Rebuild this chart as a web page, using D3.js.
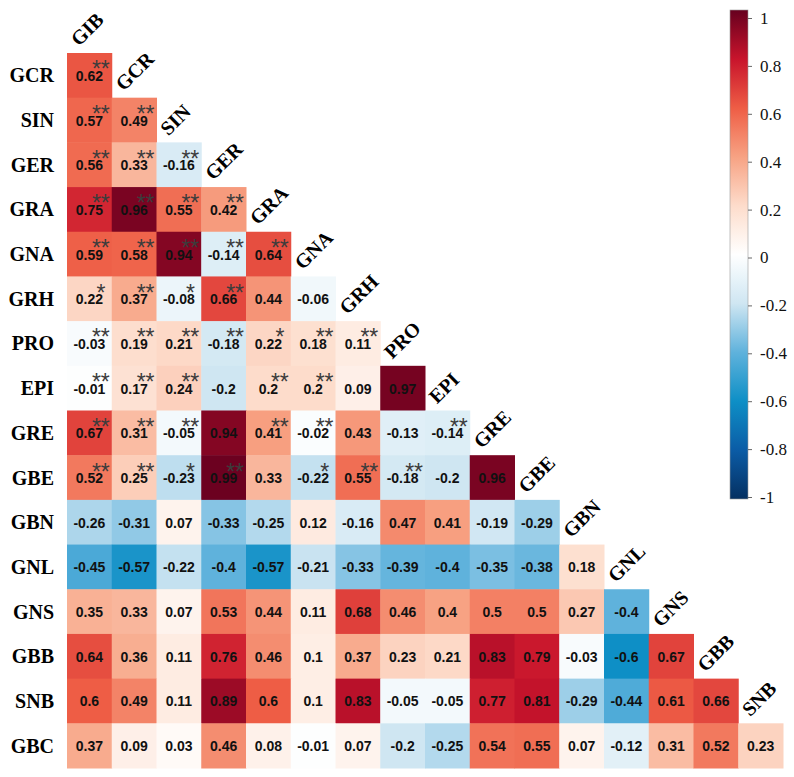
<!DOCTYPE html>
<html lang="en">
<head>
<meta charset="utf-8">
<title>Correlation matrix</title>
<script src="https://cdn.jsdelivr.net/npm/d3@7"></script>
<style>
  body { margin: 0; background: #fff; }
  .rowlab, .collab { font-family: "Liberation Serif", "Times New Roman", serif; font-weight: bold; font-size: 20px; fill: #000; }
  .val { font-family: "Liberation Sans", Arial, sans-serif; font-weight: bold; font-size: 14px; fill: #111; }
  .star { font-family: "Liberation Sans", Arial, sans-serif; font-size: 23px; fill: #3c3c3c; }
</style>
</head>
<body>
<svg width="794" height="777"></svg>
<script>
// variable names
var colNames = ["GIB","GCR","SIN","GER","GRA","GNA","GRH","PRO","EPI","GRE","GBE","GBN","GNL","GNS","GBB","SNB"];
var rowNames = ["GCR","SIN","GER","GRA","GNA","GRH","PRO","EPI","GRE","GBE","GBN","GNL","GNS","GBB","SNB","GBC"];

// lower triangle, one array per row
var corrValues = [
  [0.62],
  [0.57, 0.49],
  [0.56, 0.33, -0.16],
  [0.75, 0.96, 0.55, 0.42],
  [0.59, 0.58, 0.94, -0.14, 0.64],
  [0.22, 0.37, -0.08, 0.66, 0.44, -0.06],
  [-0.03, 0.19, 0.21, -0.18, 0.22, 0.18, 0.11],
  [-0.01, 0.17, 0.24, -0.2, 0.2, 0.2, 0.09, 0.97],
  [0.67, 0.31, -0.05, 0.94, 0.41, -0.02, 0.43, -0.13, -0.14],
  [0.52, 0.25, -0.23, 0.99, 0.33, -0.22, 0.55, -0.18, -0.2, 0.96],
  [-0.26, -0.31, 0.07, -0.33, -0.25, 0.12, -0.16, 0.47, 0.41, -0.19, -0.29],
  [-0.45, -0.57, -0.22, -0.4, -0.57, -0.21, -0.33, -0.39, -0.4, -0.35, -0.38, 0.18],
  [0.35, 0.33, 0.07, 0.53, 0.44, 0.11, 0.68, 0.46, 0.4, 0.5, 0.5, 0.27, -0.4],
  [0.64, 0.36, 0.11, 0.76, 0.46, 0.1, 0.37, 0.23, 0.21, 0.83, 0.79, -0.03, -0.6, 0.67],
  [0.6, 0.49, 0.11, 0.89, 0.6, 0.1, 0.83, -0.05, -0.05, 0.77, 0.81, -0.29, -0.44, 0.61, 0.66],
  [0.37, 0.09, 0.03, 0.46, 0.08, -0.01, 0.07, -0.2, -0.25, 0.54, 0.55, 0.07, -0.12, 0.31, 0.52, 0.23]
];

// significance marks, same layout as corrValues
var sigMarks = [
  ["**"],
  ["**","**"],
  ["**","**","**"],
  ["**","**","**","**"],
  ["**","**","**","**","**"],
  ["*","**","*","**","",""],
  ["**","**","**","**","*","**","**"],
  ["**","**","**","","**","**","",""],
  ["**","**","**","","**","**","","","**"],
  ["**","**","*","**","","*","**","**","",""]
];

var legendTicks = [1, 0.8, 0.6, 0.4, 0.2, 0, -0.2, -0.4, -0.6, -0.8, -1];

// colour ramp (blue - white - red)
var rampStops = [-1, -0.8, -0.6, -0.4, -0.2, 0, 0.2, 0.4, 0.6, 0.8, 1];
var rampColors = ["#053061","#0b5ca6","#0e8fc6","#5fb2dc","#cfe6f2","#ffffff","#fddccb","#f7a283","#ee5d45","#c8142c","#67001f"];
var color = d3.scaleLinear().domain(rampStops).range(rampColors).interpolate(d3.interpolateRgb);

var svg = d3.select("svg");

var x = d3.scaleBand().domain(colNames).range([67, 783]);
var y = d3.scaleBand().domain(rowNames).range([53, 768]);
var bw = x.bandwidth(), bh = y.bandwidth();

// flatten cells
var cells = [];
corrValues.forEach(function(row, i) {
  row.forEach(function(v, j) {
    cells.push({
      row: rowNames[i], col: colNames[j], value: v,
      sig: (sigMarks[i] && sigMarks[i][j]) || ""
    });
  });
});

var g = svg.append("g");

g.selectAll(".cell")
    .data(cells)
  .enter().append("rect")
    .attr("class", "cell")
    .attr("x", function(d) { return x(d.col); })
    .attr("y", function(d) { return y(d.row); })
    .attr("width", bw + 0.5)
    .attr("height", bh + 0.5)
    .attr("fill", function(d) { return color(d.value); });

g.selectAll(".val")
    .data(cells)
  .enter().append("text")
    .attr("class", "val")
    .attr("x", function(d) { return x(d.col) + bw / 2; })
    .attr("y", function(d) { return y(d.row) + bh / 2 + 5.5; })
    .attr("text-anchor", "middle")
    .text(function(d) { return d.value; });

// stars up to the right of the value
g.selectAll(".star")
    .data(cells.filter(function(d) { return d.sig; }))
  .enter().append("text")
    .attr("class", "star")
    .attr("x", function(d) { return x(d.col) + bw / 2 + 11.5; })
    .attr("y", function(d) { return y(d.row) + bh / 2 + 2; })
    .attr("text-anchor", "middle")
    .text(function(d) { return d.sig; });

// row labels
svg.selectAll(".rowlab")
    .data(rowNames)
  .enter().append("text")
    .attr("class", "rowlab")
    .attr("x", 54)
    .attr("y", function(d) { return y(d) + bh / 2 + 7; })
    .attr("text-anchor", "end")
    .text(function(d) { return d; });

// column labels, sitting on top of the diagonal cell
svg.selectAll(".collab")
    .data(colNames)
  .enter().append("text")
    .attr("class", "collab")
    .attr("transform", function(d, j) {
      var px = x(d) + 12, py = y(rowNames[j]) - 6;
      return "translate(" + px + "," + py + ") rotate(-45)";
    })
    .text(function(d) { return d; });

// colour bar
var cy = d3.scaleLinear().domain([-1, 1]).range([497, 18]);
var cb = svg.append("g").attr("class", "cbar");
var defs = svg.append("defs");
var grad = defs.append("linearGradient")
    .attr("id", "cgrad")
    .attr("x1", 0).attr("x2", 0).attr("y1", 1).attr("y2", 0);
d3.range(0, 1.0001, 0.05).forEach(function(t) {
  grad.append("stop")
    .attr("offset", t)
    .attr("stop-color", color(-1 + 2 * t));
});
cb.append("rect")
    .attr("x", 730)
    .attr("y", cy(1) - 8)
    .attr("width", 18)
    .attr("height", cy(-1) - cy(1) + 10)
    .attr("fill", "url(#cgrad)")
    .attr("stroke", "#999")
    .attr("stroke-width", 0.6);

var axis = d3.axisRight(cy)
    .tickValues(legendTicks)
    .tickSize(4)
    .tickPadding(8)
    .tickFormat(function(d) { return d; });
cb.append("g")
    .attr("transform", "translate(748,0)")
    .call(axis)
    .call(function(s) {
      s.select(".domain").remove();
      s.selectAll(".tick line").attr("stroke", "#666");
      s.selectAll("text").attr("font-size", 17).attr("font-family", "'Liberation Serif', serif").attr("fill", "#111");
    });
</script>
</body>
</html>
